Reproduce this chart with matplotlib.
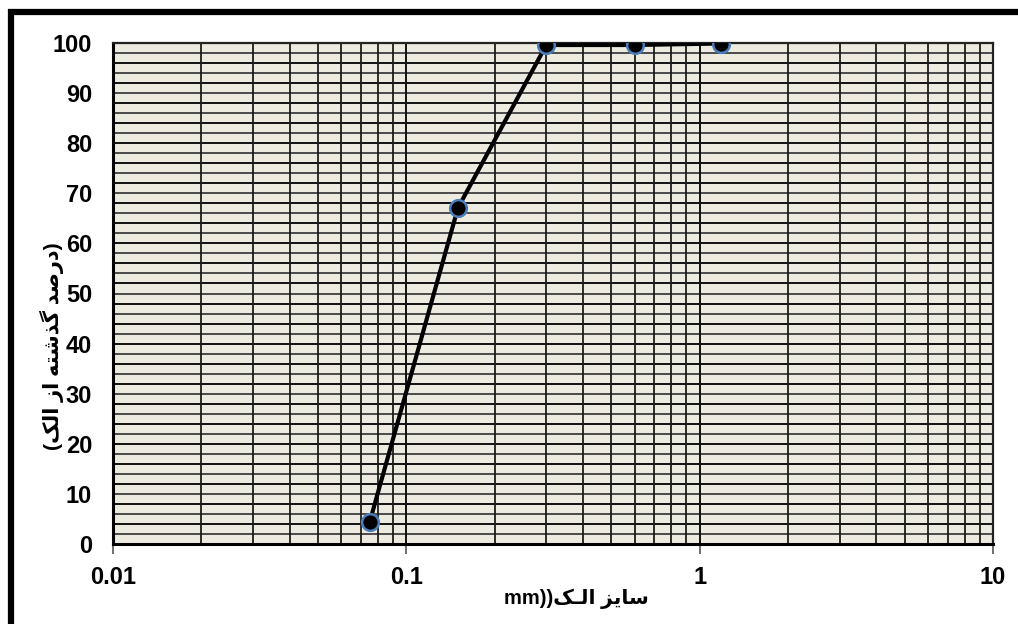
import matplotlib
matplotlib.use('Agg')
import matplotlib.pyplot as plt
from matplotlib.lines import Line2D
from matplotlib.ticker import FixedLocator, NullFormatter
import numpy as np

plt.rcParams.update({
    'font.family': ['Liberation Sans', 'DejaVu Sans'],
    'font.weight': 'bold',
})

# sieve analysis data
sieve_mm = [0.075, 0.15, 0.3, 0.6, 1.18]
passing = [4.4, 67.1, 99.6, 99.6, 99.9]

x_ticks = [0.01, 0.1, 1, 10]
x_ticklabels = ['0.01', '0.1', '1', '10']
y_ticks = [0, 10, 20, 30, 40, 50, 60, 70, 80, 90, 100]

# Persian labels, written as presentation forms in visual order
xlabel = 'mm))' + '\uFB8F\u0640\uFEDF\uFE8D' + ' ' + '\uFEB0\uFBFE\uFE8E\uFEB3'
ylabel = ('(' + '\uFB8F\uFEDF\uFE8D' + ' ' + '\uFEAF\uFE8D' + ' '
          + '\uFEEA\uFE98\uFEB7\uFEAC\uFB94' + ' ' + '\uFEAA\uFEBB\uFEAD\uFEA9' + ')')

BG = '#EDEBE0'

fig = plt.figure(figsize=(10.18, 6.24), dpi=100)
ax = fig.add_axes([113/1018, 1 - 544/624, 880/1018, 501/624])
ax.set_facecolor(BG)

ax.set_xscale('log')
ax.set_xlim(0.01, 10)
ax.set_ylim(0, 100)

# grid: every 2 % horizontally, log minor grid vertically
for i, v in enumerate(np.arange(2, 100, 2)):
    ax.axhline(v, color='#111111' if i % 2 else '#4a4a4a', lw=1.4, zorder=1)
minor_x = [m * 10.0**d for d in (-2, -1, 0) for m in range(2, 10)]
for v in minor_x:
    ax.axvline(v, color='#1c1c1c', lw=1.3, zorder=1)
for v in x_ticks[1:-1]:
    ax.axvline(v, color='#111111', lw=1.4, zorder=1)

ax.plot(sieve_mm, passing, '-', color='black', lw=3, zorder=4)
ax.plot(sieve_mm, passing, 'o', color='black', markersize=12,
        markeredgecolor='#4A7EBB', markeredgewidth=1.8, zorder=5)

ax.xaxis.set_major_locator(FixedLocator(x_ticks))
ax.set_xticklabels(x_ticklabels)
ax.xaxis.set_minor_locator(FixedLocator(minor_x))
ax.xaxis.set_minor_formatter(NullFormatter())
ax.set_yticks(y_ticks)
ax.tick_params(axis='x', which='major', length=7, width=1.2, color='#555555',
               pad=9, labelsize=17)
ax.tick_params(axis='x', which='minor', length=0)
ax.tick_params(axis='y', length=0, pad=15, labelsize=17)

for side in ('top', 'right'):
    ax.spines[side].set_color('#222222')
    ax.spines[side].set_linewidth(1.6)
for side in ('bottom', 'left'):
    ax.spines[side].set_color('black')
    ax.spines[side].set_linewidth(2.2)

fig.text(576/1018, 1 - 599/624, xlabel, ha='center', va='center', fontsize=14.5,
         fontweight='bold')
fig.text(52/1018, 1 - 346/624, ylabel, ha='center', va='center', fontsize=15,
         fontweight='bold', rotation=90)

# thick frame on the top and left edges of the picture
fig.add_artist(Line2D([11/1018, 11/1018], [0, 1 - 9/624], color='black', lw=4.5,
                      solid_capstyle='butt'))
fig.add_artist(Line2D([8/1018, 1], [1 - 12/624, 1 - 12/624], color='black', lw=4.5,
                      solid_capstyle='butt'))

fig.savefig('out.png', dpi=100)
